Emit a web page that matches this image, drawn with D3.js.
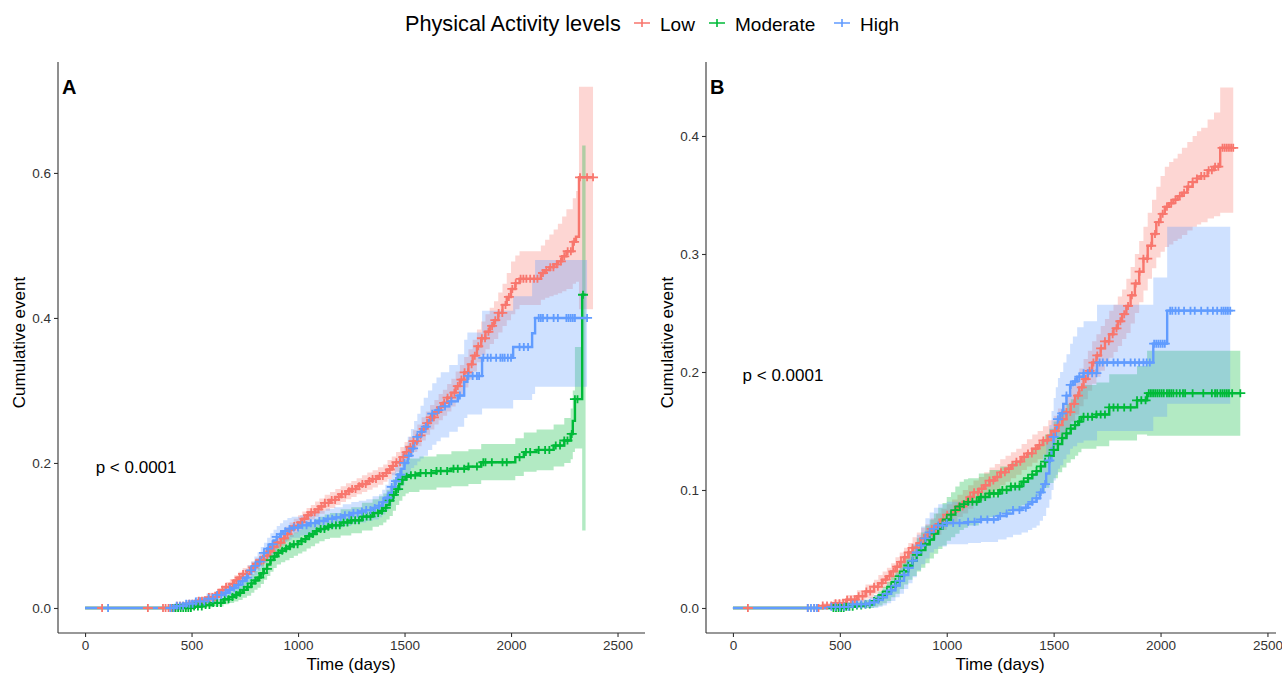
<!DOCTYPE html>
<html>
<head>
<meta charset="utf-8">
<script src="https://cdn.jsdelivr.net/npm/d3@7"></script>
<style>
body { margin: 0; background: #fff; }
text { font-family: "Liberation Sans", Arial, sans-serif; }
</style>
</head>
<body>
<svg width="1282" height="675"></svg>
<script>
// groups and colours
var groups = ["Low", "Moderate", "High"];
var colors = ["#F8766D", "#00BA38", "#619CFF"];
var xTicks = [0, 500, 1000, 1500, 2000, 2500];
var yTicksA = [0, 0.2, 0.4, 0.6];
var yTicksB = [0, 0.1, 0.2, 0.3, 0.4];

// panel A: rows are [time, estimate, lower, upper]
var lowA = [[0,0,0,0],[390,0,0,0],[430,0.003,0,0.006],[480,0.006,0.002,0.010],[530,0.010,0.005,0.015],
  [580,0.015,0.009,0.021],[620,0.021,0.015,0.027],[640,0.025,0.018,0.031],[660,0.029,0.022,0.036],
  [680,0.033,0.026,0.040],[700,0.038,0.031,0.045],[720,0.042,0.035,0.050],[740,0.047,0.039,0.055],
  [760,0.051,0.043,0.059],[780,0.056,0.048,0.064],[800,0.061,0.053,0.069],[820,0.066,0.058,0.075],
  [840,0.072,0.063,0.081],[860,0.078,0.069,0.087],[880,0.084,0.075,0.093],[900,0.090,0.081,0.099],
  [920,0.096,0.086,0.106],[940,0.102,0.092,0.112],[960,0.108,0.098,0.118],[980,0.113,0.103,0.123],
  [1000,0.118,0.108,0.128],[1020,0.123,0.113,0.133],[1040,0.128,0.118,0.138],[1060,0.132,0.122,0.142],
  [1080,0.136,0.126,0.147],[1100,0.140,0.130,0.151],[1125,0.145,0.134,0.156],[1150,0.149,0.138,0.160],
  [1175,0.153,0.142,0.164],[1200,0.157,0.146,0.168],[1225,0.161,0.150,0.172],[1250,0.164,0.153,0.175],
  [1275,0.168,0.157,0.179],[1300,0.171,0.160,0.183],[1325,0.175,0.163,0.187],[1350,0.178,0.166,0.190],
  [1375,0.182,0.170,0.194],[1400,0.186,0.174,0.198],[1420,0.191,0.178,0.204],[1440,0.196,0.183,0.209],
  [1460,0.201,0.188,0.215],[1480,0.208,0.195,0.222],[1500,0.215,0.201,0.229],[1520,0.222,0.208,0.236],
  [1540,0.230,0.215,0.245],[1560,0.238,0.223,0.253],[1580,0.247,0.231,0.263],[1600,0.255,0.239,0.271],
  [1620,0.263,0.246,0.280],[1640,0.270,0.253,0.287],[1660,0.277,0.259,0.295],[1680,0.283,0.265,0.301],
  [1700,0.290,0.271,0.309],[1720,0.297,0.278,0.316],[1740,0.306,0.286,0.326],[1760,0.315,0.295,0.335],
  [1780,0.325,0.304,0.346],[1800,0.336,0.315,0.357],[1820,0.348,0.326,0.370],[1840,0.361,0.339,0.384],
  [1860,0.372,0.349,0.395],[1880,0.381,0.357,0.405],[1900,0.389,0.364,0.414],[1920,0.397,0.371,0.423],
  [1940,0.407,0.380,0.435],[1960,0.418,0.389,0.447],[1980,0.429,0.397,0.462],[2000,0.440,0.405,0.478],
  [2020,0.448,0.412,0.486],[2040,0.454,0.418,0.492],[2140,0.462,0.425,0.500],[2160,0.466,0.428,0.508],
  [2180,0.470,0.430,0.515],[2200,0.474,0.432,0.522],[2220,0.478,0.434,0.530],[2240,0.485,0.437,0.540],
  [2260,0.492,0.440,0.550],[2290,0.505,0.447,0.565],[2305,0.512,0.450,0.575],[2319,0.594,0.412,0.719],
  [2385,0.594,0.412,0.719]];

var modA = [[0,0,0,0],[450,0,0,0],[500,0.002,0,0.005],[550,0.004,0.001,0.008],[600,0.007,0.002,0.012],
  [650,0.012,0.005,0.019],[675,0.015,0.007,0.023],[700,0.018,0.009,0.027],[720,0.021,0.011,0.031],
  [740,0.025,0.014,0.036],[760,0.029,0.017,0.041],[780,0.034,0.021,0.047],[795,0.038,0.025,0.051],
  [810,0.042,0.028,0.056],[825,0.048,0.033,0.062],[840,0.054,0.039,0.069],[855,0.060,0.044,0.076],
  [870,0.066,0.050,0.082],[885,0.071,0.055,0.087],[900,0.076,0.060,0.092],[920,0.079,0.063,0.095],
  [940,0.082,0.066,0.098],[960,0.085,0.069,0.101],[980,0.088,0.072,0.104],[1000,0.092,0.075,0.108],
  [1020,0.095,0.078,0.112],[1040,0.099,0.082,0.116],[1060,0.102,0.085,0.119],[1080,0.106,0.089,0.123],
  [1100,0.109,0.092,0.126],[1125,0.112,0.095,0.129],[1150,0.114,0.097,0.131],[1200,0.118,0.100,0.136],
  [1250,0.121,0.103,0.139],[1300,0.126,0.107,0.145],[1350,0.131,0.112,0.150],[1380,0.134,0.114,0.154],
  [1400,0.138,0.118,0.158],[1415,0.142,0.122,0.163],[1430,0.148,0.127,0.169],[1445,0.156,0.134,0.178],
  [1460,0.164,0.142,0.186],[1475,0.171,0.148,0.193],[1490,0.177,0.154,0.200],[1505,0.181,0.158,0.204],
  [1520,0.183,0.160,0.206],[1570,0.186,0.163,0.209],[1650,0.189,0.166,0.212],[1720,0.192,0.168,0.216],
  [1800,0.195,0.171,0.219],[1860,0.201,0.176,0.226],[2020,0.208,0.182,0.234],[2060,0.215,0.188,0.242],
  [2120,0.218,0.190,0.246],[2200,0.224,0.195,0.253],[2250,0.231,0.200,0.262],[2280,0.240,0.205,0.275],
  [2290,0.258,0.215,0.300],[2300,0.288,0.220,0.360],[2334,0.432,0.107,0.638],[2350,0.432,0.107,0.638]];

var highA = [[0,0,0,0],[390,0,0,0],[420,0.003,0,0.007],[470,0.006,0.001,0.011],[520,0.009,0.003,0.015],
  [570,0.013,0.006,0.020],[620,0.018,0.010,0.026],[645,0.021,0.013,0.030],[670,0.025,0.016,0.034],
  [690,0.028,0.019,0.038],[710,0.032,0.022,0.042],[730,0.037,0.026,0.048],[750,0.042,0.031,0.053],
  [765,0.047,0.035,0.059],[780,0.052,0.040,0.064],[795,0.058,0.045,0.071],[810,0.064,0.051,0.077],
  [825,0.070,0.056,0.084],[840,0.076,0.062,0.090],[855,0.082,0.067,0.097],[870,0.088,0.073,0.103],
  [885,0.093,0.078,0.108],[900,0.098,0.083,0.113],[915,0.102,0.087,0.117],[930,0.106,0.091,0.121],
  [950,0.109,0.094,0.124],[970,0.111,0.097,0.126],[1010,0.114,0.100,0.128],[1050,0.117,0.103,0.131],
  [1090,0.120,0.106,0.134],[1130,0.123,0.109,0.137],[1170,0.125,0.111,0.139],[1210,0.128,0.113,0.143],
  [1250,0.131,0.116,0.146],[1285,0.133,0.118,0.148],[1320,0.135,0.120,0.150],[1350,0.138,0.122,0.154],
  [1380,0.141,0.125,0.157],[1395,0.146,0.129,0.163],[1410,0.152,0.134,0.170],[1425,0.159,0.140,0.178],
  [1440,0.167,0.147,0.187],[1455,0.175,0.154,0.196],[1470,0.184,0.162,0.206],[1485,0.192,0.169,0.215],
  [1500,0.200,0.176,0.224],[1515,0.210,0.184,0.236],[1530,0.220,0.193,0.247],[1545,0.228,0.197,0.258],
  [1560,0.236,0.202,0.268],[1575,0.243,0.206,0.279],[1590,0.250,0.210,0.290],[1610,0.259,0.218,0.300],
  [1630,0.268,0.225,0.310],[1650,0.273,0.230,0.318],[1670,0.278,0.235,0.325],[1710,0.285,0.243,0.335],
  [1750,0.293,0.250,0.350],[1780,0.312,0.262,0.370],[1795,0.320,0.267,0.380],[1864,0.345,0.275,0.410],
  [2010,0.360,0.287,0.430],[2099,0.379,0.295,0.455],[2113,0.400,0.305,0.480],[2357,0.400,0.305,0.480]];

// panel B
var lowB = [[0,0,0,0],[370,0,0,0],[420,0.002,0,0.004],[470,0.004,0.001,0.007],[530,0.007,0.003,0.011],
  [580,0.010,0.005,0.015],[620,0.014,0.008,0.020],[660,0.018,0.012,0.024],[680,0.021,0.014,0.028],
  [700,0.024,0.017,0.031],[720,0.027,0.020,0.034],[740,0.031,0.024,0.038],[760,0.035,0.027,0.043],
  [780,0.039,0.031,0.047],[800,0.043,0.035,0.051],[820,0.047,0.039,0.055],[840,0.051,0.042,0.060],
  [860,0.055,0.046,0.064],[880,0.059,0.050,0.068],[900,0.062,0.053,0.071],[925,0.067,0.058,0.076],
  [950,0.071,0.062,0.080],[975,0.075,0.066,0.084],[1000,0.079,0.070,0.088],[1025,0.082,0.073,0.092],
  [1050,0.086,0.077,0.096],[1075,0.090,0.080,0.100],[1100,0.094,0.084,0.104],[1125,0.098,0.088,0.108],
  [1150,0.101,0.091,0.111],[1175,0.104,0.094,0.115],[1200,0.108,0.097,0.119],[1225,0.111,0.100,0.122],
  [1250,0.115,0.104,0.126],[1275,0.118,0.107,0.129],[1300,0.121,0.110,0.132],[1325,0.124,0.113,0.135],
  [1350,0.128,0.117,0.139],[1375,0.131,0.120,0.143],[1400,0.135,0.123,0.147],[1425,0.138,0.126,0.150],
  [1450,0.142,0.130,0.154],[1475,0.146,0.133,0.159],[1500,0.150,0.137,0.163],[1520,0.155,0.141,0.169],
  [1540,0.160,0.146,0.174],[1560,0.166,0.152,0.181],[1580,0.173,0.158,0.188],[1600,0.180,0.164,0.196],
  [1620,0.187,0.171,0.203],[1640,0.194,0.177,0.211],[1660,0.201,0.184,0.218],[1680,0.208,0.190,0.226],
  [1700,0.214,0.196,0.232],[1720,0.220,0.201,0.239],[1740,0.226,0.207,0.245],[1760,0.232,0.212,0.252],
  [1780,0.237,0.217,0.257],[1800,0.243,0.222,0.264],[1820,0.249,0.228,0.270],[1840,0.256,0.233,0.279],
  [1860,0.265,0.241,0.289],[1880,0.275,0.250,0.300],[1900,0.285,0.259,0.311],[1920,0.296,0.269,0.323],
  [1940,0.307,0.279,0.335],[1960,0.317,0.288,0.346],[1980,0.327,0.297,0.357],[2000,0.334,0.302,0.366],
  [2020,0.340,0.306,0.374],[2040,0.343,0.308,0.378],[2060,0.346,0.311,0.381],[2080,0.349,0.313,0.385],
  [2100,0.352,0.316,0.390],[2125,0.357,0.320,0.395],[2150,0.361,0.323,0.400],[2170,0.364,0.325,0.404],
  [2190,0.366,0.327,0.407],[2220,0.371,0.330,0.414],[2250,0.374,0.332,0.420],[2279,0.390,0.335,0.441],
  [2340,0.390,0.335,0.441]];

var modB = [[0,0,0,0],[470,0,0,0],[520,0.001,0,0.003],[580,0.002,0,0.005],[620,0.003,0,0.007],
  [660,0.006,0.001,0.011],[680,0.008,0.002,0.014],[700,0.011,0.004,0.018],[720,0.014,0.006,0.022],
  [740,0.018,0.009,0.027],[760,0.022,0.012,0.032],[780,0.027,0.016,0.038],[800,0.031,0.020,0.043],
  [820,0.036,0.024,0.048],[840,0.040,0.027,0.053],[860,0.045,0.031,0.059],[880,0.049,0.034,0.064],
  [900,0.054,0.038,0.070],[920,0.058,0.042,0.075],[940,0.063,0.046,0.080],[960,0.067,0.050,0.085],
  [980,0.071,0.053,0.089],[1000,0.075,0.057,0.094],[1020,0.079,0.060,0.098],[1040,0.083,0.063,0.103],
  [1060,0.086,0.066,0.107],[1080,0.088,0.068,0.109],[1100,0.090,0.070,0.110],[1150,0.094,0.074,0.114],
  [1200,0.097,0.077,0.117],[1250,0.100,0.080,0.120],[1300,0.103,0.083,0.123],[1350,0.107,0.087,0.127],
  [1380,0.110,0.089,0.131],[1400,0.113,0.092,0.134],[1420,0.116,0.095,0.138],[1440,0.120,0.098,0.142],
  [1460,0.124,0.102,0.147],[1480,0.129,0.106,0.152],[1500,0.134,0.110,0.158],[1520,0.139,0.115,0.163],
  [1540,0.144,0.119,0.168],[1560,0.148,0.123,0.173],[1580,0.152,0.126,0.177],[1600,0.155,0.129,0.181],
  [1615,0.158,0.132,0.185],[1630,0.162,0.135,0.189],[1700,0.164,0.137,0.191],[1760,0.170,0.142,0.198],
  [1890,0.176,0.147,0.205],[1937,0.182,0.146,0.218],[2373,0.182,0.146,0.218]];

var highB = [[0,0,0,0],[380,0,0,0],[450,0.001,0,0.003],[560,0.003,0,0.007],[640,0.004,0,0.009],
  [660,0.005,0,0.011],[680,0.007,0.001,0.013],[700,0.009,0.002,0.016],[720,0.012,0.004,0.020],
  [740,0.015,0.006,0.024],[760,0.019,0.009,0.029],[780,0.023,0.012,0.034],[800,0.028,0.016,0.040],
  [820,0.034,0.021,0.047],[840,0.040,0.026,0.054],[860,0.047,0.032,0.062],[880,0.053,0.037,0.069],
  [900,0.059,0.042,0.076],[920,0.064,0.047,0.081],[940,0.067,0.050,0.085],[960,0.070,0.052,0.088],
  [1000,0.072,0.054,0.090],[1100,0.073,0.055,0.091],[1160,0.075,0.056,0.094],[1240,0.078,0.058,0.098],
  [1280,0.080,0.060,0.101],[1310,0.083,0.062,0.104],[1350,0.085,0.064,0.107],[1380,0.088,0.066,0.110],
  [1400,0.090,0.068,0.113],[1420,0.093,0.070,0.116],[1435,0.098,0.074,0.122],[1450,0.105,0.078,0.130],
  [1465,0.114,0.085,0.142],[1480,0.125,0.092,0.155],[1490,0.135,0.100,0.167],[1500,0.145,0.108,0.178],
  [1510,0.153,0.113,0.187],[1520,0.160,0.118,0.195],[1530,0.165,0.121,0.200],[1545,0.173,0.126,0.208],
  [1560,0.180,0.130,0.215],[1577,0.189,0.135,0.224],[1590,0.192,0.137,0.230],[1610,0.196,0.140,0.238],
  [1640,0.199,0.142,0.243],[1703,0.208,0.150,0.257],[1966,0.224,0.162,0.280],[2031,0.252,0.173,0.323],
  [2326,0.252,0.173,0.323]];

// censoring times (days)
var lowA_cens = [80,295,366,378,392,405,419,432,447,461,474,489,503,518,534,549,566,581,598,613,630,645,
  662,679,694,711,726,742,759,774,790,807,822,838,855,870,886,903,918,934,951,966,982,999,1014,1030,1047,
  1062,1078,1095,1110,1126,1143,1158,1174,1191,1206,1222,1239,1254,1270,1287,1302,1318,1335,1350,1366,
  1383,1398,1414,1431,1446,1462,1479,1494,1510,1527,1542,1558,1575,1590,1606,1623,1638,1654,1671,1686,
  1702,1719,1734,1750,1767,1782,1798,1815,1830,1846,1863,1878,1894,1911,1926,1942,1959,1974,1990,2006,
  2022,2045,2058,2072,2090,2108,2124,2150,2166,2184,2199,2215,2234,2250,2266,2281,2296,2324,2357,2385];
var modA_cens = [413,425,437,449,461,473,485,497,512,530,548,566,584,602,620,638,656,674,692,710,728,
  746,764,782,800,818,836,854,872,890,908,926,944,962,980,998,1016,1034,1052,1070,1088,1106,1124,1142,
  1160,1178,1196,1214,1232,1250,1268,1286,1304,1322,1340,1358,1376,1394,1412,1430,1450,1470,1490,1510,
  1530,1550,1575,1600,1625,1650,1670,1700,1730,1750,1780,1800,1840,1870,1880,1910,1960,1980,2040,2070,
  2090,2130,2160,2180,2210,2230,2250,2265,2285,2300,2312,2338];
var highA_cens = [108,400,415,430,445,460,475,490,505,520,540,560,580,600,620,640,660,680,700,720,740,
  760,780,800,820,840,860,880,900,920,940,960,980,1000,1020,1040,1060,1080,1100,1120,1140,1160,1180,
  1200,1220,1240,1260,1280,1300,1320,1340,1360,1380,1400,1420,1440,1460,1480,1500,1520,1540,1560,1580,
  1600,1630,1660,1690,1720,1760,1800,1820,1840,1850,1870,1890,1905,1930,1950,1960,1970,1985,2000,2040,
  2060,2080,2130,2140,2150,2170,2200,2220,2260,2270,2280,2290,2300,2357];
var lowB_cens = [70,350,380,400,420,440,460,480,498,516,534,552,570,588,606,624,642,660,678,696,714,
  732,750,768,786,804,822,840,858,876,894,912,930,948,966,984,1002,1020,1038,1056,1074,1092,1110,1128,
  1146,1164,1182,1200,1218,1236,1254,1272,1290,1308,1326,1344,1362,1380,1398,1416,1434,1452,1470,1488,
  1506,1524,1542,1560,1578,1596,1614,1632,1650,1668,1686,1704,1722,1740,1758,1776,1794,1812,1830,1848,
  1866,1884,1902,1920,1938,1956,1974,1992,2010,2030,2050,2070,2090,2110,2130,2150,2170,2190,2205,2225,
  2240,2255,2270,2290,2300,2310,2320,2330,2340];
var modB_cens = [470,482,494,506,518,530,545,560,580,600,620,640,660,680,700,720,740,760,780,800,820,
  840,860,880,900,920,940,960,980,1000,1020,1040,1060,1080,1100,1120,1140,1160,1180,1200,1220,1240,
  1260,1280,1300,1320,1340,1360,1380,1400,1420,1440,1460,1480,1500,1520,1540,1560,1580,1600,1620,1640,
  1660,1680,1700,1720,1740,1760,1780,1800,1830,1860,1890,1910,1930,1945,1955,1965,1975,1985,1995,2005,
  2015,2030,2040,2050,2060,2075,2090,2105,2115,2150,2200,2240,2255,2265,2280,2290,2300,2310,2320,2335,2373];
var highB_cens = [350,365,380,393,460,480,500,520,540,560,580,600,620,640,660,680,700,720,740,760,780,
  800,820,840,860,880,900,920,940,960,980,1000,1030,1060,1100,1130,1160,1190,1220,1250,1280,1310,1340,
  1370,1400,1420,1440,1460,1480,1500,1520,1540,1560,1580,1600,1620,1640,1660,1680,1700,1715,1730,1750,
  1780,1800,1830,1860,1880,1900,1920,1935,1950,1970,1980,1990,2000,2010,2020,2045,2055,2070,2085,2110,
  2140,2160,2190,2220,2245,2265,2285,2295,2305,2315,2326];

var panels = [
  {label: "A", series: [lowA, modA, highA], cens: [lowA_cens, modA_cens, highA_cens], titleX: 351,
   left: 58, right: 645, xDom: [-127, 2629], yDom: [-0.0345, 0.753], yTicks: yTicksA, p: [50, 0.195]},
  {label: "B", series: [lowB, modB, highB], cens: [lowB_cens, modB_cens, highB_cens], titleX: 1000,
   left: 706, right: 1276, xDom: [-126, 2540], yDom: [-0.0212, 0.4627], yTicks: yTicksB, p: [45, 0.197]}
];
var plotTop = 62, plotBottom = 633;

var svg = d3.select("svg");

// step lookup: value of estimate at time t
function stepAt(rows, t) {
  var i = d3.bisector(function(d) { return d[0]; }).right(rows, t) - 1;
  return rows[Math.max(i, 0)][1];
}

var plus = "M-5,0H5M0,-4V4";

panels.forEach(function(p) {
  var x = d3.scaleLinear().domain(p.xDom).range([p.left, p.right]);
  var y = d3.scaleLinear().domain(p.yDom).range([plotBottom, plotTop]);
  var g = svg.append("g");

  var area = d3.area().curve(d3.curveStepAfter)
    .x(function(d) { return x(d[0]); })
    .y0(function(d) { return y(d[2]); })
    .y1(function(d) { return y(d[3]); });
  var line = d3.line().curve(d3.curveStepAfter)
    .x(function(d) { return x(d[0]); })
    .y(function(d) { return y(d[1]); });

  // confidence ribbons
  p.series.forEach(function(s, k) {
    g.append("path").attr("d", area(s))
      .attr("fill", colors[k]).attr("fill-opacity", 0.3);
  });
  // step curves
  p.series.forEach(function(s, k) {
    g.append("path").attr("d", line(s))
      .attr("fill", "none").attr("stroke", colors[k]).attr("stroke-width", 2.4);
  });
  // censor marks
  p.series.forEach(function(s, k) {
    g.selectAll(null).data(p.cens[k]).enter().append("path")
      .attr("d", plus)
      .attr("transform", function(t) { return "translate(" + x(t) + "," + y(stepAt(s, t)) + ")"; })
      .attr("stroke", colors[k]).attr("stroke-width", 1.8).attr("fill", "none");
  });

  // axes
  var xa = g.append("g").attr("transform", "translate(0," + plotBottom + ")")
    .call(d3.axisBottom(x).tickValues(xTicks).tickFormat(d3.format("d"))
      .tickSize(4).tickSizeOuter(0).tickPadding(3));
  var ya = g.append("g").attr("transform", "translate(" + p.left + ",0)")
    .call(d3.axisLeft(y).tickValues(p.yTicks).tickFormat(d3.format(".1f"))
      .tickSize(4).tickSizeOuter(0).tickPadding(3));
  [xa, ya].forEach(function(a) {
    a.selectAll("path, line").attr("stroke", "#333").attr("stroke-width", 1.1);
    a.selectAll("text").attr("fill", "#333").style("font-size", "13.5px");
  });
  ya.select(".domain").attr("d", "M0," + plotTop + "V" + plotBottom);
  xa.select(".domain").attr("d", "M" + p.left + ",0H" + p.right);

  // titles
  g.append("text").attr("x", p.titleX).attr("y", 670)
    .attr("text-anchor", "middle").style("font-size", "17px").text("Time (days)");
  g.append("text").attr("transform", "translate(" + (p.left - 33) + "," + ((plotTop + plotBottom) / 2 - 5) + ") rotate(-90)")
    .attr("text-anchor", "middle").style("font-size", "17px").text("Cumulative event");
  g.append("text").attr("x", p.left + 4).attr("y", 94)
    .style("font-size", "20px").style("font-weight", "bold").text(p.label);
  g.append("text").attr("x", x(p.p[0])).attr("y", y(p.p[1])).attr("dy", "0.35em")
    .style("font-size", "17px").text("p < 0.0001");
});

// legend
var leg = svg.append("g");
leg.append("text").attr("x", 405).attr("y", 31).style("font-size", "21.7px").text("Physical Activity levels");
var keyX = [642, 717, 842];
groups.forEach(function(name, k) {
  leg.append("path").attr("d", "M" + (keyX[k] - 8) + ",23H" + (keyX[k] + 8) + "M" + keyX[k] + ",19V27")
    .attr("stroke", colors[k]).attr("stroke-width", 1.6);
  leg.append("text").attr("x", keyX[k] + 18).attr("y", 31).style("font-size", "19px").text(name);
});
</script>
</body>
</html>
